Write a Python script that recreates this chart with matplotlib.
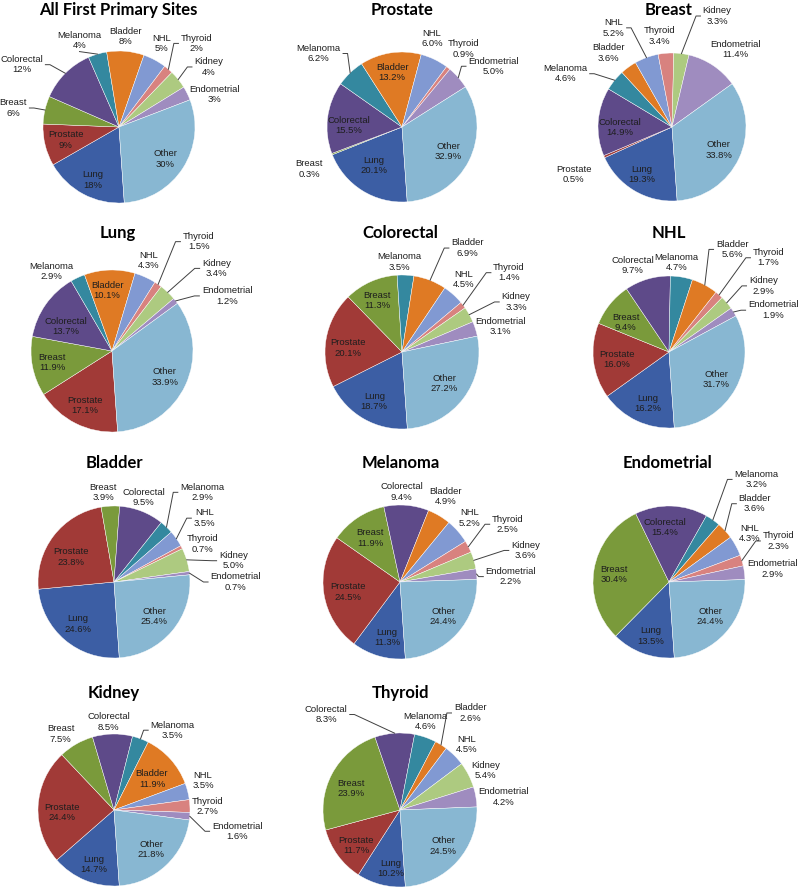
import numpy as np
import matplotlib.pyplot as plt

# categories, in the order the slices are drawn (clockwise from the bottom)
sites = ["Lung", "Prostate", "Breast", "Colorectal", "Melanoma", "Bladder",
         "NHL", "Thyroid", "Kidney", "Endometrial", "Other"]
colores = ["#3c5ea4", "#a13a37", "#7a9a3b", "#5e4a89", "#34889f", "#df7a24",
           "#8199d2", "#d8827f", "#adca80", "#9f8cbf", "#88b7d2"]

titulos = ["All First Primary Sites", "Prostate", "Breast", "Lung", "Colorectal",
           "NHL", "Bladder", "Melanoma", "Endometrial", "Kidney", "Thyroid"]

#             Lung  Pros  Brea  Colo  Mela  Blad  NHL   Thyr  Kidn  Endo  Other
all_first   = [18,   9,    6,    12,   4,    8,    5,    2,    4,    3,    30]
prostate    = [20.1, 0,    0.3,  15.5, 6.2,  13.2, 6.0,  0.9,  0,    5.0,  32.9]
breast      = [19.3, 0.5,  0,    14.9, 4.6,  3.6,  5.2,  3.4,  3.3,  11.4, 33.8]
lung        = [0,    17.1, 11.9, 13.7, 2.9,  10.1, 4.3,  1.5,  3.4,  1.2,  33.9]
colorectal  = [18.7, 20.1, 11.3, 0,    3.5,  6.9,  4.5,  1.4,  3.3,  3.1,  27.2]
nhl         = [16.2, 16.0, 9.4,  9.7,  4.7,  5.6,  0,    1.7,  2.9,  1.9,  31.7]
bladder     = [24.6, 23.8, 3.9,  9.5,  2.9,  0,    3.5,  0.7,  5.0,  0.7,  25.4]
melanoma    = [11.3, 24.5, 11.9, 9.4,  0,    4.9,  5.2,  2.5,  3.6,  2.2,  24.4]
endometrial = [13.5, 0,    30.4, 15.4, 3.2,  3.6,  4.3,  2.3,  0,    2.9,  24.4]
kidney      = [14.7, 24.4, 7.5,  8.5,  3.5,  11.9, 3.5,  2.7,  0,    1.6,  21.8]
thyroid     = [10.2, 11.7, 23.9, 8.3,  4.6,  2.6,  4.5,  0,    5.4,  4.2,  24.5]

dados = [all_first, prostate, breast, lung, colorectal, nhl,
         bladder, melanoma, endometrial, kidney, thyroid]

# layout in pixels: pie centre x, centre y, radius, title x, title y
W, H = 800, 889
layout = [
    (119, 127, 76, 118, 10), (402, 127, 75, 402, 10), (672, 127, 74, 669, 10),
    (112, 351, 81, 118, 233), (402, 352, 77, 400, 233), (669, 352, 76, 669, 233),
    (114, 582, 76, 114, 463), (400, 582, 77, 401, 463), (669, 582, 76, 668, 463),
    (114, 810, 76, 114, 693), (400, 810, 77, 400, 693),
]

# label centres in pie radii, and whether a leader line is drawn
rotulos = [
    {"Lung": (-0.34, -0.70, 0), "Prostate": (-0.70, -0.17, 0), "Breast": (-1.39, 0.25, 1),
     "Colorectal": (-1.28, 0.82, 1), "Melanoma": (-0.52, 1.14, 1), "Bladder": (0.09, 1.19, 0),
     "NHL": (0.56, 1.10, 0), "Thyroid": (1.02, 1.10, 1), "Kidney": (1.18, 0.79, 1),
     "Endometrial": (1.26, 0.43, 0), "Other": (0.61, -0.42, 0)},
    {"Lung": (-0.38, -0.51, 0), "Breast": (-1.24, -0.56, 0), "Colorectal": (-0.71, 0.02, 0),
     "Melanoma": (-1.11, 0.98, 1), "Bladder": (-0.13, 0.73, 0), "NHL": (0.40, 1.18, 0),
     "Thyroid": (0.82, 1.04, 0), "Endometrial": (1.22, 0.81, 1), "Other": (0.62, -0.33, 0)},
    {"Lung": (-0.41, -0.64, 0), "Prostate": (-1.33, -0.64, 0), "Colorectal": (-0.70, -0.01, 0),
     "Melanoma": (-1.44, 0.72, 1), "Bladder": (-0.86, 1.00, 0), "NHL": (-0.79, 1.34, 1),
     "Thyroid": (-0.17, 1.23, 0), "Kidney": (0.61, 1.50, 1), "Endometrial": (0.86, 1.05, 0),
     "Other": (0.63, -0.31, 0)},
    {"Prostate": (-0.33, -0.67, 0), "Breast": (-0.74, -0.14, 0), "Colorectal": (-0.57, 0.30, 0),
     "Melanoma": (-0.75, 0.98, 0), "Bladder": (-0.06, 0.75, 0), "NHL": (0.45, 1.12, 0),
     "Thyroid": (1.07, 1.35, 1), "Kidney": (1.29, 1.02, 1), "Endometrial": (1.42, 0.68, 1),
     "Other": (0.65, -0.32, 0)},
    {"Lung": (-0.36, -0.64, 0), "Prostate": (-0.70, 0.05, 0), "Breast": (-0.32, 0.67, 0),
     "Melanoma": (-0.04, 1.17, 0), "Bladder": (0.85, 1.35, 1), "NHL": (0.80, 0.94, 0),
     "Thyroid": (1.39, 1.03, 1), "Kidney": (1.48, 0.65, 1), "Endometrial": (1.28, 0.33, 0),
     "Other": (0.55, -0.41, 0)},
    {"Lung": (-0.28, -0.68, 0), "Prostate": (-0.69, -0.10, 0), "Breast": (-0.57, 0.39, 0),
     "Colorectal": (-0.48, 1.14, 0), "Melanoma": (0.10, 1.18, 0), "Bladder": (0.83, 1.35, 1),
     "Thyroid": (1.31, 1.24, 1), "Kidney": (1.24, 0.87, 1), "Endometrial": (1.37, 0.55, 1),
     "Other": (0.62, -0.36, 0)},
    {"Lung": (-0.48, -0.55, 0), "Prostate": (-0.57, 0.33, 0), "Breast": (-0.14, 1.18, 0),
     "Colorectal": (0.39, 1.11, 0), "Melanoma": (1.16, 1.18, 1), "NHL": (1.19, 0.84, 1),
     "Thyroid": (1.17, 0.50, 0), "Kidney": (1.57, 0.28, 1), "Endometrial": (1.60, 0.00, 1),
     "Other": (0.53, -0.45, 0)},
    {"Lung": (-0.17, -0.72, 0), "Prostate": (-0.67, -0.13, 0), "Breast": (-0.39, 0.57, 0),
     "Colorectal": (0.02, 1.17, 0), "Bladder": (0.59, 1.11, 0), "NHL": (0.90, 0.83, 0),
     "Thyroid": (1.40, 0.75, 1), "Kidney": (1.63, 0.41, 1), "Endometrial": (1.44, 0.07, 1),
     "Other": (0.56, -0.45, 0)},
    {"Lung": (-0.24, -0.71, 0), "Breast": (-0.72, 0.10, 0), "Colorectal": (-0.06, 0.72, 0),
     "Melanoma": (1.15, 1.35, 1), "Bladder": (1.13, 1.03, 1), "NHL": (1.06, 0.64, 0),
     "Thyroid": (1.44, 0.54, 1), "Endometrial": (1.36, 0.17, 0), "Other": (0.54, -0.45, 0)},
    {"Lung": (-0.27, -0.72, 0), "Prostate": (-0.69, -0.03, 0), "Breast": (-0.70, 1.00, 0),
     "Colorectal": (-0.07, 1.16, 0), "Melanoma": (0.77, 1.05, 1), "Bladder": (0.50, 0.41, 0),
     "NHL": (1.17, 0.39, 0), "Thyroid": (1.23, 0.05, 0), "Endometrial": (1.62, -0.28, 1),
     "Other": (0.49, -0.52, 0)},
    {"Lung": (-0.12, -0.76, 0), "Prostate": (-0.57, -0.46, 0), "Breast": (-0.63, 0.28, 0),
     "Colorectal": (-0.96, 1.24, 1), "Melanoma": (0.33, 1.15, 0), "Bladder": (0.91, 1.26, 1),
     "NHL": (0.87, 0.85, 0), "Kidney": (1.11, 0.51, 0), "Endometrial": (1.35, 0.17, 0),
     "Other": (0.56, -0.47, 0)},
]

fig = plt.figure(figsize=(W / 100, H / 100), dpi=100)
fig.patch.set_facecolor("white")

pendentes = []
for i, valores in enumerate(dados):
    cx, cy, r, tx, ty = layout[i]
    a = 2.0
    ax = fig.add_axes([(cx - a * r) / W, 1 - (cy + a * r) / H, 2 * a * r / W, 2 * a * r / H])

    idx = [j for j, v in enumerate(valores) if v > 0]
    wedges, _ = ax.pie([valores[j] for j in idx], colors=[colores[j] for j in idx],
                       startangle=-86, counterclock=False, radius=1,
                       wedgeprops=dict(edgecolor="white", linewidth=0.3))
    ax.set_xlim(-a, a)
    ax.set_ylim(-a, a)
    ax.axis("off")

    fmt = "{:.0f}%" if i == 0 else "{:.1f}%"
    for k, j in enumerate(idx):
        x, y, leader = rotulos[i][sites[j]]
        t = ax.text(x, y, sites[j] + "\n" + fmt.format(valores[j]), ha="center", va="center",
                    fontsize=6.8, family="Liberation Sans", color="#1e1e1e", linespacing=1.2)
        if leader:
            pendentes.append((ax, t, wedges[k]))

    fig.text(tx / W, 1 - ty / H, titulos[i], ha="center", va="center",
             fontsize=12, fontweight="bold", family="Lato", color="black")

# leader lines from the slice edge to the side of the label
fig.canvas.draw()
renderer = fig.canvas.get_renderer()
for ax, t, w in pendentes:
    bb = t.get_window_extent(renderer).transformed(ax.transData.inverted())
    meio = np.deg2rad((w.theta1 + w.theta2) / 2)
    p0 = np.array([np.cos(meio), np.sin(meio)])
    yc = (bb.y0 + bb.y1) / 2
    xc = (bb.x0 + bb.x1) / 2
    if p0[0] < bb.x0:
        fim = (bb.x0 - 0.03, yc)
        cot = (bb.x0 - 0.09, yc)
    elif p0[0] > bb.x1:
        fim = (bb.x1 + 0.03, yc)
        cot = (bb.x1 + 0.09, yc)
    elif p0[1] < bb.y0:
        fim = (xc, bb.y0 - 0.02)
        cot = fim
    else:
        fim = (xc, bb.y1 + 0.02)
        cot = fim
    ax.plot([p0[0], cot[0], fim[0]], [p0[1], cot[1], fim[1]], color="#404040", lw=0.7,
            clip_on=False)

plt.savefig("out.png", dpi=100, facecolor="white")
plt.close()
